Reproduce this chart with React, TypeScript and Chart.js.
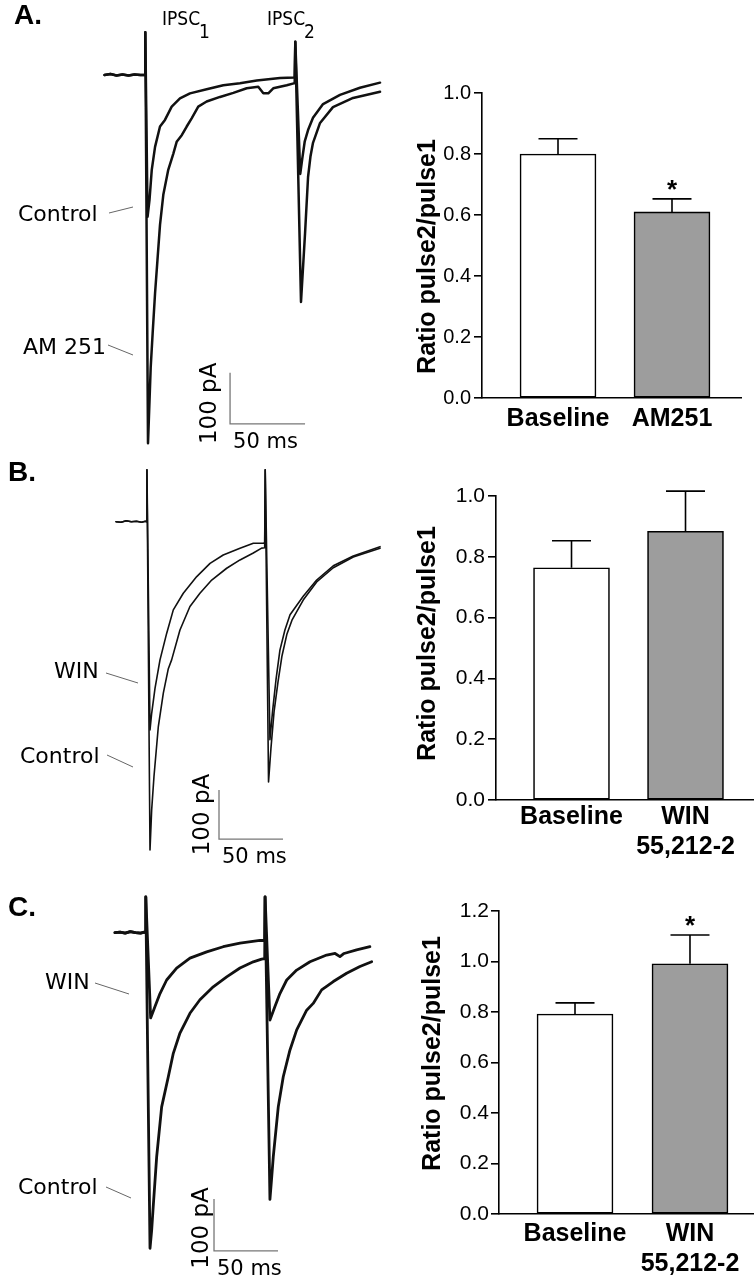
import React, { useEffect, useRef } from "react";
import { Chart, registerables } from "chart.js";

Chart.register(...registerables);

// ================= Bar chart data (paired-pulse ratio) =================
const A_CATEGORIES: (string | string[])[] = ["Baseline", "AM251"];
const A_MEANS = [0.80, 0.61];
const A_SEM = [0.05, 0.043];
const A_SIGNIFICANT = [false, true];

const B_CATEGORIES: (string | string[])[] = ["Baseline", ["WIN", "55,212-2"]];
const B_MEANS = [0.764, 0.884];
const B_SEM = [0.089, 0.132];
const B_SIGNIFICANT = [false, false];

const C_CATEGORIES: (string | string[])[] = ["Baseline", ["WIN", "55,212-2"]];
const C_MEANS = [0.792, 0.991];
const C_SEM = [0.044, 0.114];
const C_SIGNIFICANT = [false, true];

const RATIO_TICKS_AB = [0, 0.2, 0.4, 0.6, 0.8, 1.0];
const RATIO_TICKS_C = [0, 0.2, 0.4, 0.6, 0.8, 1.0, 1.2];
const Y_TITLE = "Ratio pulse2/pulse1";

// ================= Trace data (time in ms, current in pA) =================
// Panel A
const A_CTRL_T = [-27, -23, -19, -15, -11, -7, -3, 0, 0.2, 1.7, 3, 4.5, 6.7, 10, 13.3, 17.8, 23.3, 30, 41.1, 52.2, 63.3, 74.5, 90, 99.8, 100.2, 103.5, 104.8, 106.5, 108.7, 112, 118.7, 130, 143.3, 156.7];
const A_CTRL_I = [0, 2, -1, 1, -1, 1, 0, 0, 84, -278, -245, -186, -141, -101, -88, -62, -46, -36, -28, -20, -16, -11, -6, -5, 65, -194, -165, -130, -108, -84, -57, -39, -25, -15];
const A_AM_T = [-27, -23, -19, -15, -11, -7, -3, 0, 0.2, 2, 3.8, 5.1, 6.7, 8.3, 10, 12.2, 15.5, 18.9, 21.1, 24.5, 27.8, 31.1, 35.5, 41.1, 50, 58.9, 67.8, 75.5, 78.9, 82.2, 85.5, 94.5, 99.8, 100.2, 104, 106.7, 108.7, 110.3, 112, 116.7, 125.3, 138.7, 156.7];
const A_AM_I = [0, 2, -1, 1, -1, 1, 0, 0, 84, -722, -573, -506, -428, -363, -294, -235, -186, -154, -131, -118, -101, -85, -62, -52, -43, -35, -26, -23, -36, -36, -26, -20, -16, 65, -445, -310, -200, -160, -133, -94, -63, -45, -33];

// Panel B
const B_WIN_T = [-24, -20, -16, -12, -8, -4, -1, 0, 0.2, 2.6, 3.9, 6.5, 10.4, 15.6, 20.8, 28.6, 39.1, 49.5, 59.8, 72.9, 83.3, 91.1, 92.2, 92.6, 96.3, 98.3, 101, 104.1, 108, 112, 122.3, 132.8, 145.8, 161.4, 182.3];
const B_WIN_I = [0, -1, 2, 0, 1, -1, 1, 0, 106, -425, -391, -340, -282, -228, -180, -146, -112, -85, -68, -54, -44, -44, -43, 106, -445, -388, -323, -262, -221, -190, -152, -119, -90, -70, -51];
const B_CTRL_T = [-24, -20, -16, -12, -8, -4, -1, 0, 0.2, 2.6, 3.9, 5.7, 9.1, 13, 16.9, 19.5, 26, 33.8, 41.6, 50.8, 62.5, 72.9, 83.3, 89.8, 92.2, 92.6, 95.2, 97.1, 99.5, 102.6, 105.7, 109.6, 113.5, 122.3, 132.8, 145.8, 161.4, 182.3];
const B_CTRL_I = [0, -1, 2, 0, 1, -1, 1, 0, 106, -670, -588, -520, -418, -350, -300, -282, -221, -173, -146, -119, -95, -78, -64, -54, -53, 106, -531, -462, -388, -327, -274, -229, -201, -160, -123, -94, -72, -54];

// Panel C
const C_WIN_T = [-24, -20, -16, -12, -8, -4, -1, 0, 0.1, 3.9, 7.3, 11.2, 16.4, 24.2, 34.6, 47.7, 60.6, 73.7, 89.3, 93.0, 93.3, 97.1, 101, 104.9, 110.2, 118, 128.4, 141.4, 148, 151.8, 155, 164.8, 175.2];
const C_WIN_I = [0, 1, -1, 2, 0, -1, 1, 0, 69, -164, -142, -117, -91, -68, -49, -37, -27, -20, -15, -15, 69, -168, -142, -117, -91, -72, -56, -43, -40, -46, -40, -33, -27];
const C_CTRL_T = [-24, -20, -16, -12, -8, -4, -1, 0, 0.1, 3.4, 4.7, 5.9, 8.6, 12.5, 17.7, 21.6, 26.8, 34.6, 42.4, 52.8, 63.3, 73.7, 84.1, 90.6, 93.0, 93.3, 97.1, 98.3, 99.7, 103.6, 107.5, 112.7, 118, 125.8, 130.9, 137.5, 146.6, 157, 167.4, 176.6];
const C_CTRL_I = [0, 1, -1, 2, 0, -1, 1, 0, 69, -607, -572, -527, -431, -335, -277, -232, -193, -155, -129, -104, -85, -68, -56, -51, -50, 69, -513, -476, -431, -335, -277, -226, -187, -149, -136, -110, -94, -78, -65, -56];

// Scale bars: corner [ms, pA], lengths
const SCALE_MS = 50;
const SCALE_PA = 100;
const A_SCALEBAR = [56.7, -684];
const B_SCALEBAR = [56.5, -647.6];
const C_SCALEBAR = [53.4, -612];

// Axis ranges of the (hidden) trace axes
const A_X_RANGE = [-96.67, 163.33];
const A_Y_RANGE = [-754.9, 147.06];
const B_X_RANGE = [-114.6, 190.1];
const B_Y_RANGE = [-731.2, 125.9];
const C_X_RANGE = [-113.8, 190.9];
const C_Y_RANGE = [-667.9, 101.3];

// ================= Styles =================
const LABEL_FONT = '22px "DejaVu Sans", Verdana, sans-serif';
const IPSC_FONT = '19px "DejaVu Sans Condensed", "DejaVu Sans", sans-serif';
const PANEL_FONT = 'bold 28px "Liberation Sans", Arial, sans-serif';
const BAR_FAMILY = '"Liberation Sans", Arial, sans-serif';

type TextItem = { text: string; x: number; y: number; font: string; align?: CanvasTextAlign; rotate?: number };
type Pos = { x: number; y: number; w: number; h: number };

function zip(t: number[], i: number[]) {
  return t.map((v, k) => ({ x: v, y: i[k] }));
}

function TraceChart(props: {
  pos: Pos;
  xRange: number[];
  yRange: number[];
  traces: { t: number[]; i: number[] }[];
  lineWidth: number;
  scaleBar: number[];
  pADx: number;
  pADy: number;
  texts: TextItem[];
  pointers: number[][];
}) {
  const ref = useRef<HTMLCanvasElement>(null);
  useEffect(() => {
    const { xRange, yRange, traces, lineWidth, scaleBar, texts, pointers, pADx, pADy } = props;
    const annot = {
      id: "annot",
      afterDraw(chart: any) {
        const ctx = chart.ctx as CanvasRenderingContext2D;
        const xs = chart.scales.x;
        const ys = chart.scales.y;
        ctx.save();
        ctx.strokeStyle = "#666";
        ctx.lineWidth = 1;
        for (const p of pointers) {
          ctx.beginPath();
          ctx.moveTo(p[0], p[1]);
          ctx.lineTo(p[2], p[3]);
          ctx.stroke();
        }
        ctx.fillStyle = "#000";
        const all: TextItem[] = [...texts];
        const cx = xs.getPixelForValue(scaleBar[0]);
        const cy = ys.getPixelForValue(scaleBar[1]);
        const midY = ys.getPixelForValue(scaleBar[1] + SCALE_PA / 2);
        all.push({ text: `${SCALE_PA} pA`, x: cx + pADx, y: midY + pADy, font: '23px "DejaVu Sans", sans-serif', align: "center", rotate: -Math.PI / 2 });
        all.push({ text: `${SCALE_MS} ms`, x: cx + 3, y: cy + 19, font: '21px "DejaVu Sans", sans-serif', align: "left" });
        for (const t of all) {
          ctx.save();
          ctx.font = t.font;
          ctx.textAlign = t.align || "left";
          ctx.textBaseline = "middle";
          ctx.translate(t.x, t.y);
          if (t.rotate) ctx.rotate(t.rotate);
          ctx.fillText(t.text, 0, 0);
          ctx.restore();
        }
        ctx.restore();
      },
    };
    const datasets: any[] = traces.map((tr) => ({
      data: zip(tr.t, tr.i),
      borderColor: "#111",
      borderWidth: lineWidth,
      borderJoinStyle: "round",
      borderCapStyle: "round",
      pointRadius: 0,
      tension: 0,
      fill: false,
    }));
    datasets.push({
      data: [
        { x: scaleBar[0], y: scaleBar[1] + SCALE_PA },
        { x: scaleBar[0], y: scaleBar[1] },
        { x: scaleBar[0] + SCALE_MS, y: scaleBar[1] },
      ],
      borderColor: "#777",
      borderWidth: 1.3,
      pointRadius: 0,
      tension: 0,
      fill: false,
    });
    const chart = new Chart(ref.current as HTMLCanvasElement, {
      type: "line",
      data: { datasets },
      options: {
        animation: false,
        responsive: false,
        events: [],
        layout: { padding: 0 },
        plugins: { legend: { display: false }, tooltip: { enabled: false } },
        scales: {
          x: { type: "linear", display: false, min: xRange[0], max: xRange[1] },
          y: { type: "linear", display: false, min: yRange[0], max: yRange[1] },
        },
      },
      plugins: [annot],
    } as any);
    return () => chart.destroy();
  }, []);
  const { pos } = props;
  return (
    <canvas
      ref={ref}
      width={pos.w}
      height={pos.h}
      style={{ position: "absolute", left: pos.x, top: pos.y, width: pos.w, height: pos.h }}
    />
  );
}

function BarChart(props: {
  pos: Pos;
  categories: (string | string[])[];
  means: number[];
  sem: number[];
  significant: boolean[];
  ticks: number[];
  xRange: number[];
  area: { left: number; top: number; right: number; bottom: number };
  titleAt: number[];
  tickFont: number;
  tickPad: number;
  labelPad: number;
}) {
  const ref = useRef<HTMLCanvasElement>(null);
  useEffect(() => {
    const { pos, categories, means, sem, significant, ticks, xRange, area, titleAt, tickFont, tickPad, labelPad } = props;
    const errPlugin = {
      id: "errbars",
      afterDatasetsDraw(chart: any) {
        const ctx = chart.ctx as CanvasRenderingContext2D;
        const ys = chart.scales.y;
        const meta = chart.getDatasetMeta(0);
        ctx.save();
        ctx.strokeStyle = "#000";
        ctx.lineWidth = 1.6;
        meta.data.forEach((bar: any, k: number) => {
          const x = bar.x;
          const yTop = ys.getPixelForValue(means[k]);
          const yErr = ys.getPixelForValue(means[k] + sem[k]);
          ctx.beginPath();
          ctx.moveTo(x, yTop);
          ctx.lineTo(x, yErr);
          ctx.moveTo(x - 19.5, yErr);
          ctx.lineTo(x + 19.5, yErr);
          ctx.stroke();
          if (significant[k]) {
            ctx.fillStyle = "#000";
            ctx.font = `bold 26px ${BAR_FAMILY}`;
            ctx.textAlign = "center";
            ctx.textBaseline = "alphabetic";
            ctx.fillText("*", x, yErr - 1);
          }
        });
        // axis title
        ctx.save();
        ctx.fillStyle = "#000";
        ctx.font = `bold 25px ${BAR_FAMILY}`;
        ctx.textAlign = "center";
        ctx.textBaseline = "middle";
        ctx.translate(titleAt[0], titleAt[1]);
        ctx.rotate(-Math.PI / 2);
        ctx.fillText(Y_TITLE, 0, 0);
        ctx.restore();
        ctx.restore();
      },
    };
    const chart = new Chart(ref.current as HTMLCanvasElement, {
      type: "bar",
      data: {
        datasets: [
          {
            data: means.map((v, k) => ({ x: k + 1, y: v })),
            backgroundColor: ["#ffffff", "#9d9d9d"],
            borderColor: "#000",
            borderWidth: 1.6,
            borderSkipped: false,
            barThickness: 76,
          },
        ],
      },
      options: {
        animation: false,
        responsive: false,
        events: [],
        layout: { padding: { left: 0, top: area.top, right: pos.w - area.right, bottom: 0 } },
        plugins: { legend: { display: false }, tooltip: { enabled: false } },
        scales: {
          x: {
            type: "linear",
            min: xRange[0],
            max: xRange[1],
            offset: false,
            grid: { display: false, drawTicks: false, offset: false },
            border: { display: true, color: "#000", width: 1.6 },
            afterBuildTicks: (s: any) => {
              s.ticks = categories.map((_, k) => ({ value: k + 1 }));
            },
            afterFit: (s: any) => {
              s.height = pos.h - area.bottom;
            },
            ticks: {
              autoSkip: false,
              maxRotation: 0,
              padding: labelPad,
              color: "#000",
              font: { family: BAR_FAMILY, size: 25, weight: "bold", lineHeight: 1.2 },
              callback: (v: any) => categories[Math.round(Number(v)) - 1] as any,
            },
          },
          y: {
            type: "linear",
            min: 0,
            max: ticks[ticks.length - 1],
            afterBuildTicks: (s: any) => {
              s.ticks = ticks.map((v) => ({ value: v }));
            },
            afterFit: (s: any) => {
              s.width = area.left;
            },
            grid: { drawOnChartArea: false, drawTicks: true, tickLength: 8, color: "#000", lineWidth: 1.6 },
            border: { display: true, color: "#000", width: 1.6 },
            ticks: {
              padding: tickPad,
              color: "#000",
              font: { family: BAR_FAMILY, size: tickFont },
              callback: (v: any) => Number(v).toFixed(1),
            },
          },
        },
      },
      plugins: [errPlugin],
    } as any);
    return () => chart.destroy();
  }, []);
  const { pos } = props;
  return (
    <canvas
      ref={ref}
      width={pos.w}
      height={pos.h}
      style={{ position: "absolute", left: pos.x, top: pos.y, width: pos.w, height: pos.h }}
    />
  );
}

export default function App() {
  return (
    <div style={{ position: "absolute", left: 0, top: 0, width: 756, height: 1280, background: "#fff", overflow: "hidden" }}>
      {/* Panel A traces */}
      <TraceChart
        pos={{ x: 0, y: 0, w: 390, h: 460 }}
        xRange={A_X_RANGE}
        yRange={A_Y_RANGE}
        traces={[{ t: A_CTRL_T, i: A_CTRL_I }, { t: A_AM_T, i: A_AM_I }]}
        lineWidth={2.5}
        scaleBar={A_SCALEBAR}
        pADx={-20}
        pADy={5}
        texts={[
          { text: "A.", x: 14, y: 16, font: PANEL_FONT },
          { text: "IPSC", x: 162, y: 20, font: IPSC_FONT },
          { text: "1", x: 199, y: 33, font: IPSC_FONT },
          { text: "IPSC", x: 267, y: 20, font: IPSC_FONT },
          { text: "2", x: 304, y: 33, font: IPSC_FONT },
          { text: "Control", x: 18, y: 215, font: LABEL_FONT },
          { text: "AM 251", x: 23, y: 348, font: LABEL_FONT },
        ]}
        pointers={[
          [109, 213, 133, 207],
          [108, 345, 133, 355],
        ]}
      />
      {/* Panel B traces */}
      <TraceChart
        pos={{ x: 0, y: 460, w: 390, h: 420 }}
        xRange={B_X_RANGE}
        yRange={B_Y_RANGE}
        traces={[{ t: B_CTRL_T, i: B_CTRL_I }, { t: B_WIN_T, i: B_WIN_I }]}
        lineWidth={1.6}
        scaleBar={B_SCALEBAR}
        pADx={-16}
        pADy={0}
        texts={[
          { text: "B.", x: 8, y: 13, font: PANEL_FONT },
          { text: "WIN", x: 54, y: 212, font: LABEL_FONT },
          { text: "Control", x: 20, y: 297, font: LABEL_FONT },
        ]}
        pointers={[
          [106, 213, 138, 223],
          [107, 295, 133, 307],
        ]}
      />
      {/* Panel C traces */}
      <TraceChart
        pos={{ x: 0, y: 880, w: 390, h: 400 }}
        xRange={C_X_RANGE}
        yRange={C_Y_RANGE}
        traces={[{ t: C_CTRL_T, i: C_CTRL_I }, { t: C_WIN_T, i: C_WIN_I }]}
        lineWidth={2.8}
        scaleBar={C_SCALEBAR}
        pADx={-12}
        pADy={3}
        texts={[
          { text: "C.", x: 8, y: 28, font: PANEL_FONT },
          { text: "WIN", x: 45, y: 103, font: LABEL_FONT },
          { text: "Control", x: 18, y: 308, font: LABEL_FONT },
        ]}
        pointers={[
          [95, 103, 129, 114],
          [106, 307, 131, 318],
        ]}
      />
      {/* Bar charts */}
      <BarChart
        pos={{ x: 380, y: 60, w: 376, h: 380 }}
        categories={A_CATEGORIES}
        means={A_MEANS}
        sem={A_SEM}
        significant={A_SIGNIFICANT}
        ticks={RATIO_TICKS_AB}
        xRange={[0.3333, 2.6053]}
        area={{ left: 102, top: 33, right: 361, bottom: 338 }}
        titleAt={[48, 196.5]}
        tickFont={20}
        tickPad={3}
        labelPad={6}
      />
      <BarChart
        pos={{ x: 380, y: 460, w: 376, h: 420 }}
        categories={B_CATEGORIES}
        means={B_MEANS}
        sem={B_SEM}
        significant={B_SIGNIFICANT}
        ticks={RATIO_TICKS_AB}
        xRange={[0.3377, 2.592]}
        area={{ left: 116, top: 36, right: 373, bottom: 340 }}
        titleAt={[48, 183.5]}
        tickFont={21}
        tickPad={3}
        labelPad={2}
      />
      <BarChart
        pos={{ x: 380, y: 880, w: 376, h: 400 }}
        categories={C_CATEGORIES}
        means={C_MEANS}
        sem={C_SEM}
        significant={C_SIGNIFICANT}
        ticks={RATIO_TICKS_C}
        xRange={[0.339, 2.548]}
        area={{ left: 119, top: 31, right: 373, bottom: 334 }}
        titleAt={[53, 173.5]}
        tickFont={21}
        tickPad={2}
        labelPad={5}
      />
    </div>
  );
}
